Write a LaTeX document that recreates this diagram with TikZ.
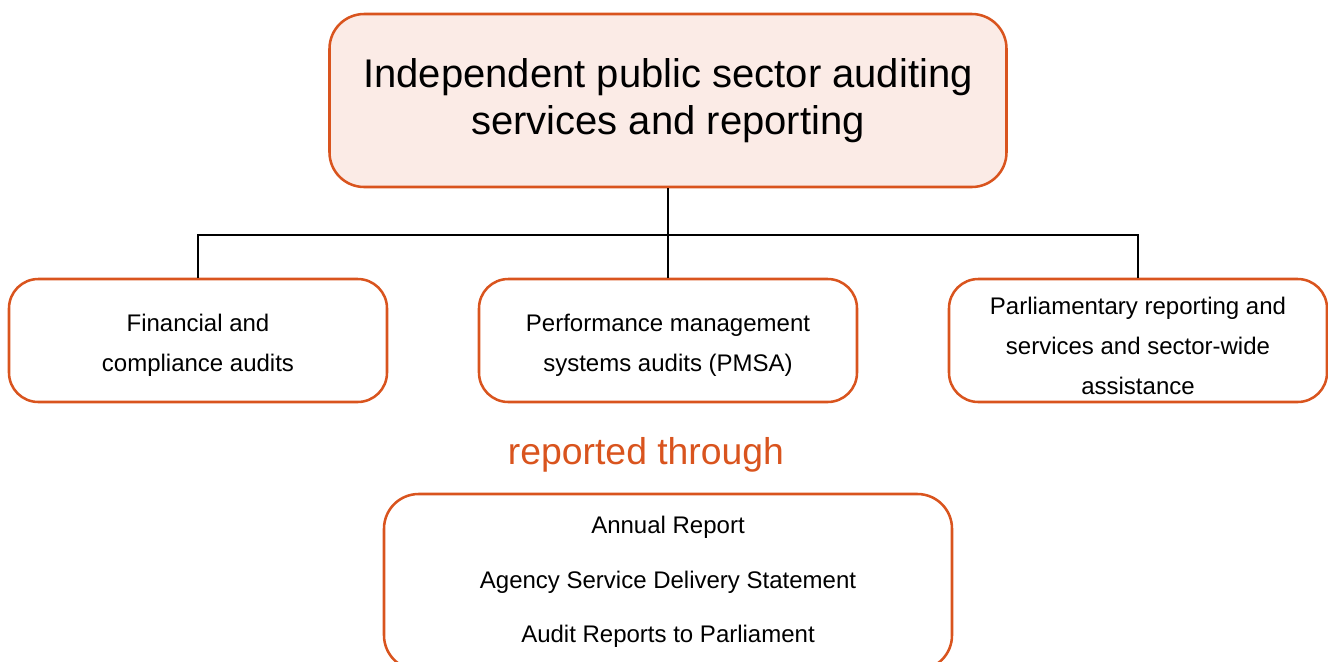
\documentclass[tikz,border=0pt]{standalone}
\usepackage{fontspec}
\setmainfont{Liberation Sans}
\usepackage{tikz}

\definecolor{auditorange}{HTML}{D9541E}
\definecolor{auditfill}{HTML}{FBEBE6}
\newcommand{\topstrut}{\rule{0pt}{20.5pt}}

\begin{document}
\begin{tikzpicture}[x=0.75pt, y=-0.75pt,
    box/.style={draw=auditorange, line width=1.9pt, rounded corners=22pt, align=center, inner sep=0pt},
    smallbox/.style={box, minimum width=283.5pt, minimum height=92.25pt, font=\fontsize{18}{30}\selectfont},
    link/.style={line width=1.6pt, black}]
    \useasboundingbox (0,0) rectangle (1328,661);

    \node (top) [box, fill=auditfill, minimum width=507.75pt, minimum height=129.75pt, rounded corners=26pt,
        font=\fontsize{30}{35}\selectfont] at (668,100.5) {Independent public sector auditing\\services and reporting};

    \node (fin) [smallbox] at (198,340.5) {\topstrut Financial and\\compliance audits};
    \node (perf) [smallbox] at (668,340.5) {\topstrut Performance management\\systems audits (PMSA)};
    \node (parl) [smallbox] at (1138,340.5) {\topstrut Parliamentary reporting and\\services and sector-wide\\assistance};

    \node (via) [text=auditorange, font=\fontsize{28}{32}\selectfont] at (646,455) {reported through};

    \node (reports) [box, minimum width=426pt, minimum height=132pt, rounded corners=26pt,
        font=\fontsize{18}{41}\selectfont] at (668,582) {Annual Report\\Agency Service Delivery Statement\\Audit Reports to Parliament};

    \coordinate (split) at (668,235);
    \draw[link] (top) -- (perf);
    \draw[link] (fin.north) |- (split) -| (parl.north);
\end{tikzpicture}
\end{document}
